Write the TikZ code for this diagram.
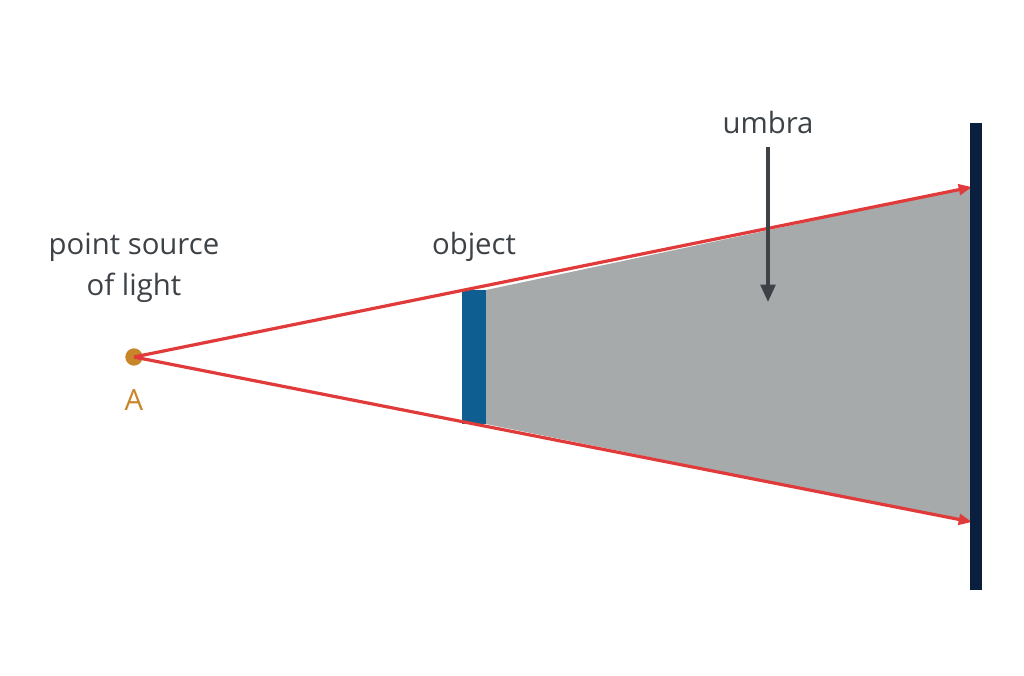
\documentclass[tikz,border=0pt]{standalone}
\usepackage{fontspec}
\setmainfont{Open Sans}
\usetikzlibrary{arrows.meta}
\definecolor{srccol}{HTML}{C8862A}
\definecolor{objcol}{HTML}{0E5E91}
\definecolor{umbcol}{HTML}{A7AAAA}
\definecolor{raycol}{HTML}{E03A3A}
\definecolor{scrcol}{HTML}{0A1F3D}
\definecolor{txtcol}{HTML}{3D4247}
\begin{document}
\begin{tikzpicture}[x=0.75pt,y=-0.75pt,
  lbl/.style={text=txtcol,font=\fontsize{22}{31}\selectfont,align=center,inner sep=0pt},
  rayline/.style={draw=raycol,line width=2.4pt,-{Triangle[length=10pt,width=8pt]}}]
\useasboundingbox (0,0) rectangle (1024,675);
\fill[umbcol] (486,290) -- (972,187) -- (972,522) -- (486,424) -- cycle;
\node[fill=objcol,minimum width=18pt,minimum height=100.5pt,inner sep=0pt] (obj) at (474,357) {};
\node[circle,fill=srccol,minimum size=13pt,inner sep=0pt] (A) at (134,357) {};
\coordinate (t) at (972,187);
\coordinate (b) at (972,522);
\draw[rayline] (A.center) -- (t);
\draw[rayline] (A.center) -- (b);
\coordinate (s1) at (976,123);
\coordinate (s2) at (976,590);
\draw[scrcol,line width=9pt] (s1) -- (s2);
\node[lbl,text=srccol] (Al) at (134,400) {A};
\node[lbl] (ps) at (134,268) {point source\\of light};
\node[lbl] (ol) at (474,247) {object};
\node[lbl] (ul) at (768,122) {umbra};
\coordinate (ue) at (768,302);
\draw[txtcol,line width=2.6pt,-{Triangle[length=13pt,width=11pt]}] (ul.south) ++(0,-10pt) -- (ue);
\end{tikzpicture}
\end{document}
